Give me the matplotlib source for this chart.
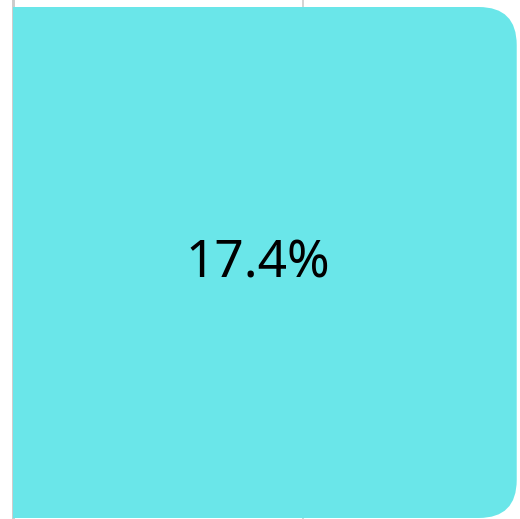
import matplotlib
matplotlib.use("Agg")
import matplotlib.pyplot as plt
from matplotlib.patches import FancyBboxPatch

# data
categories = ["A"]
values = [17.4]
labels = ["17.4%"]
bar_color = "#6ae6e9"

W, H = 520, 519
fig = plt.figure(figsize=(W / 100, H / 100), dpi=100)

# axes placed in pixels so that the chart is cropped like the reference
left_px, xscale = 13, 28.95         # px per x unit
yscale, top_px = 638.75, 7 - 0.1 * 638.75
ax = fig.add_axes([left_px / W, (H - top_px - yscale) / H, 20 * xscale / W, yscale / H])
ax.set_xlim(0, 20)
ax.set_ylim(-0.5, 0.5)

bars = ax.barh(range(len(categories)), values, height=0.8, color=bar_color, zorder=2)

# swap each bar for one with rounded right corners (left side is hidden by the clip)
radius = 38 / xscale
aspect = (1 / yscale) / (1 / xscale)
for b, lab in zip(bars, labels):
    x0, y0, w, h = b.get_x(), b.get_y(), b.get_width(), b.get_height()
    b.set_visible(False)
    ax.add_patch(FancyBboxPatch((x0 - radius, y0), w + radius, h,
                                boxstyle=f"round,pad=0,rounding_size={radius}",
                                mutation_aspect=aspect, fc=bar_color, ec="none", zorder=2))
    ax.annotate(lab, (x0 + w / 2, y0 + h / 2), xytext=(-7, -1), textcoords="offset pixels",
                ha="center", va="center", fontsize=37, family=["Noto Sans", "DejaVu Sans"],
                color="black", zorder=3)

ax.set_xticks([0, 10, 20])
ax.set_yticks([])
ax.tick_params(length=0, labelbottom=False)
ax.grid(axis="x", color="#cccccc", linewidth=1.2, zorder=0)
for s in ["top", "right", "bottom"]:
    ax.spines[s].set_visible(False)
ax.spines["left"].set_color("#c8c8c8")
ax.spines["left"].set_linewidth(2)
ax.spines["left"].set_zorder(1)

fig.savefig("out.png", dpi=100)
